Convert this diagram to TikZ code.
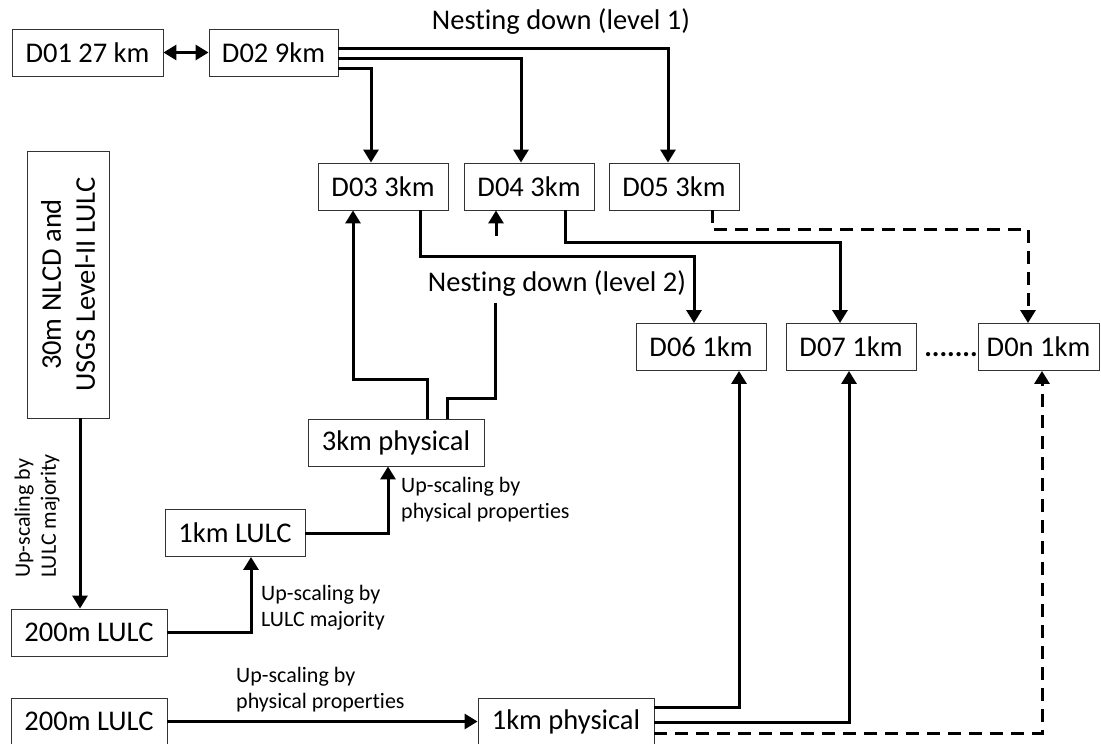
\documentclass[tikz,border=0pt]{standalone}
\usepackage{fontspec}
\setmainfont{Carlito}[Ligatures=NoCommon]
\usetikzlibrary{arrows.meta}
\begin{document}
\begin{tikzpicture}[x=1pt,y=-1pt,
  box/.style={draw=black!80, line width=0.9pt, minimum height=47pt, inner sep=0pt, font=\fontsize{28.5}{34}\selectfont},
  big/.style={font=\fontsize{28.5}{34}\selectfont, inner sep=0pt},
  tip/.style={-{Triangle[length=13pt,width=15pt]}},
  conn/.style={line width=3pt, tip},
  plain/.style={line width=3pt},
  dline/.style={line width=3pt, dash pattern=on 13pt off 8pt},
  lab/.style={font=\fontsize{22}{26}\selectfont, align=left, inner sep=0pt},
]
\clip (0,0) rectangle (1101,744);
% boxes
\node[box, minimum width=151pt] (d01) at (87.5,52.5) {D01 27 km};
\node[box, minimum width=129pt] (d02) at (273.5,52.5) {D02 9km};
\node[box, minimum width=130pt] (d03) at (383,186.5) {D03 3km};
\node[box, minimum width=130pt] (d04) at (529,186.5) {D04 3km};
\node[box, minimum width=130pt] (d05) at (674,186.5) {D05 3km};
\node[box, minimum width=130pt] (d06) at (701,347) {D06 1km};
\node[box, minimum width=130pt] (d07) at (851,347) {D07 1km};
\node[box, minimum width=121pt] (d0n) at (1038.5,347) {D0n 1km};
\node[big, anchor=base] (dots) at (951,356) {\textbf{.......}};
\node[box, minimum width=82pt, minimum height=267pt] (nlcd) at (68,284.5) {};
\node[big, rotate=90, align=center] (nlcdtext) at (nlcd.center) {30m NLCD and\\USGS Level-II LULC};
\node[box, minimum width=176pt] (p3) at (396,442.5) {3km physical};
\node[box, minimum width=140pt] (l1) at (235,533) {1km LULC};
\node[box, minimum width=156pt] (m2a) at (89,632.5) {200m LULC};
\node[box, minimum width=156pt] (m2b) at (89,721.5) {200m LULC};
\node[box, minimum width=176pt] (p1) at (566,721.5) {1km physical};
% texts
\node[big, anchor=base] (lev1) at (561,30) {Nesting down (level 1)};
\node[big, anchor=base] (lev2) at (557,291) {Nesting down (level 2)};
\node[lab, anchor=west] (lab1) at (401,500) {Up-scaling by\\physical properties};
\node[lab, anchor=west] (lab2) at (261,608) {Up-scaling by\\LULC majority};
\node[lab, anchor=west] (lab3) at (236,690) {Up-scaling by\\physical properties};
\node[lab, rotate=90] (lab4) at (37,516) {Up-scaling by\\LULC majority};
% connectors
\draw[line width=3pt, {Triangle[length=13pt,width=15pt]}-{Triangle[length=13pt,width=15pt]}] (d01) -- (d02);
\draw[conn] ([yshift=4.5pt]d02.east) -| ([xshift=-6pt]d05.north);
\draw[conn] ([yshift=-5.5pt]d02.east) -| ([xshift=-8pt]d04.north);
\draw[conn] ([yshift=-15.5pt]d02.east) -| ([xshift=-12pt]d03.north);
\draw[conn] ([xshift=37pt]d03.south) -- ++(0,46) -| ([xshift=-7pt]d06.north);
\draw[conn] ([xshift=36pt]d04.south) -- ++(0,32) -| ([xshift=-11pt]d07.north);
\draw[dline, tip] ([xshift=38pt]d05.south) -- ++(0,19) -| ([xshift=-10.5pt]d0n.north);
\draw[conn] ([xshift=31pt]p3.north) -- ++(0,-39) -| ([xshift=-30pt]d03.south);
\coordinate (gapA) at (495,303);
\coordinate (gapB) at (496,236);
\draw[plain] ([xshift=51pt]p3.north) -- ++(0,-20) -| (gapA);
\draw[conn] (gapB) -- (gapB |- d04.south);
\draw[conn] (l1.east) -| ([xshift=-8pt]p3.south);
\draw[conn] (m2a.east) -| ([xshift=16pt]l1.south);
\draw[conn] ([xshift=12pt]nlcd.south) -- ([xshift=12pt]nlcd.south |- m2a.north);
\draw[conn] (m2b.east) -- (p1.west);
\draw[conn] ([yshift=14.5pt]p1.east) -| ([xshift=38pt]d06.south);
\draw[conn] ([yshift=-0.5pt]p1.east) -| ([xshift=-2pt]d07.south);
\draw[dline, tip] ([yshift=-11.5pt]p1.east) -| ([xshift=3.5pt]d0n.south);
\end{tikzpicture}
\end{document}
